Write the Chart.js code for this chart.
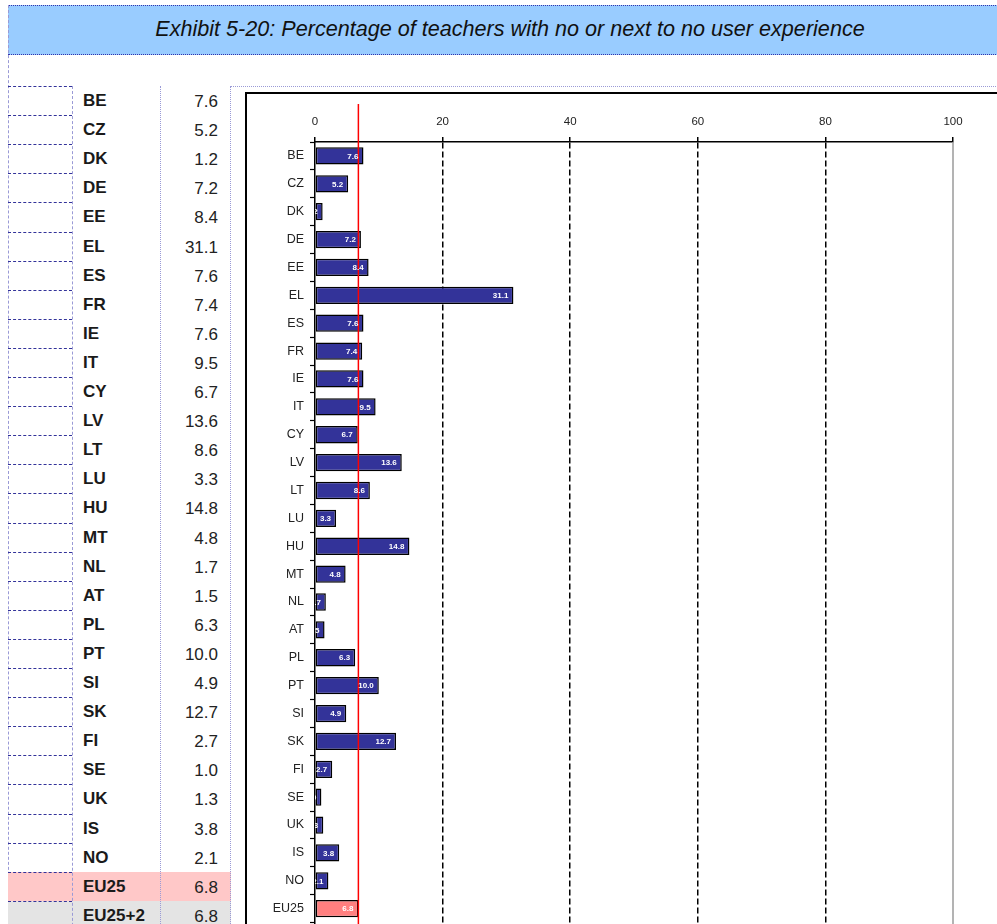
<!DOCTYPE html>
<html>
<head>
<meta charset="utf-8">
<script src="https://cdn.jsdelivr.net/npm/chart.js@4/dist/chart.umd.min.js"></script>
<style>
  html, body { margin: 0; padding: 0; background: #fff; }
  body { width: 997px; height: 924px; overflow: hidden; position: relative; font-family: "Liberation Sans", Arial, sans-serif; }
  #band { position: absolute; left: 8px; top: 5px; width: 1000px; height: 48px; background: #99ccff;
          border-top: 1px dotted #3333aa; border-bottom: 1px dotted #3333aa; }
  #title { position: absolute; left: 0; width: 1020px; top: 16px; text-align: center; font-style: italic;
           font-size: 21.6px; color: #111; white-space: nowrap; }
  .vline { position: absolute; width: 0; border-left: 1px dashed #9a9ad6; }
  .hline { position: absolute; height: 0; border-top: 1px dashed #33339a; }
  .row { position: absolute; left: 8px; width: 223px; }
  .code { position: absolute; left: 83px; font-size: 17px; font-weight: bold; color: #1a1a1a; }
  .val { position: absolute; left: 160px; width: 58px; text-align: right; font-size: 17px; color: #222; }
  #frame { position: absolute; left: 245px; top: 92px; width: 800px; height: 900px; border: 2px solid #000; box-sizing: border-box; }
  #chartBox { position: absolute; left: 247px; top: 94px; width: 760px; height: 870px; }
</style>
</head>
<body>
<div id="band"></div>
<div id="title">Exhibit 5-20: Percentage of teachers with no or next to no user experience</div>
<div id="table"></div>
<div id="frame"></div>
<div id="chartBox"><canvas id="c"></canvas></div>
<script>
// Countries and the share of teachers with no or next to no user experience (%)
const countries = ['BE','CZ','DK','DE','EE','EL','ES','FR','IE','IT','CY','LV','LT','LU','HU','MT','NL','AT','PL','PT','SI','SK','FI','SE','UK','IS','NO','EU25','EU25+2'];
const values = [7.6,5.2,1.2,7.2,8.4,31.1,7.6,7.4,7.6,9.5,6.7,13.6,8.6,3.3,14.8,4.8,1.7,1.5,6.3,10.0,4.9,12.7,2.7,1.0,1.3,3.8,2.1,6.8,6.8];
const averageLabel = 'EU25';
const xTicks = [0, 20, 40, 60, 80, 100];

// Left-hand data table
const table = document.getElementById('table');
const rowTop = 86, rowH = 29.1;
function add(html) { table.insertAdjacentHTML('beforeend', html); }
add(`<div class="vline" style="left:8px;top:5px;height:930px"></div>`);
countries.forEach((c, i) => {
  const top = rowTop + rowH * i;
  let bg = '';
  if (c === 'EU25') bg = '#ffc8c8';
  if (c === 'EU25+2') bg = '#e4e4e4';
  if (bg) add(`<div class="row" style="top:${top}px;height:${rowH}px;background:${bg}"></div>`);
  add(`<div class="hline" style="left:8px;width:64px;top:${top}px"></div>`);
  add(`<div class="code" style="top:${top + 5}px">${c}</div>`);
  add(`<div class="val" style="top:${top + 6}px">${values[i].toFixed(1)}</div>`);
});
add(`<div class="vline" style="left:72px;top:${rowTop}px;height:900px"></div>`);
add(`<div class="vline" style="left:160px;top:${rowTop}px;height:900px;border-left-style:dotted"></div>`);
add(`<div class="vline" style="left:230px;top:${rowTop}px;height:900px;border-left-style:dotted"></div>`);
add(`<div class="hline" style="left:230px;width:800px;top:${rowTop}px;border-top:1px dotted #9a9ad6"></div>`);

const avgValue = values[countries.indexOf(averageLabel)];

// Reference lines: solid line at the axis maximum and red EU25 average line
const refLines = {
  id: 'refLines',
  afterDatasetsDraw(chart) {
    const { ctx, chartArea, scales } = chart;
    const x = scales.x;
    ctx.save();
    const xm = x.getPixelForValue(100);
    ctx.strokeStyle = '#9a9a9a';
    ctx.lineWidth = 1.5;
    ctx.beginPath(); ctx.moveTo(xm, chartArea.top); ctx.lineTo(xm, chartArea.bottom); ctx.stroke();
    const xa = x.getPixelForValue(avgValue);
    ctx.strokeStyle = '#ff0000';
    ctx.lineWidth = 1.5;
    ctx.beginPath(); ctx.moveTo(xa, chartArea.top - 38); ctx.lineTo(xa, chartArea.bottom); ctx.stroke();
    ctx.restore();
  }
};

// White value labels at the inner end of each bar
const barLabels = {
  id: 'barLabels',
  afterDatasetsDraw(chart) {
    const { ctx, chartArea } = chart;
    const meta = chart.getDatasetMeta(0);
    ctx.save();
    ctx.beginPath();
    ctx.rect(chartArea.left, chartArea.top, chartArea.right - chartArea.left, chartArea.bottom - chartArea.top);
    ctx.clip();
    ctx.font = 'bold 8px "Liberation Sans", Arial, sans-serif';
    ctx.fillStyle = '#ffffff';
    ctx.textAlign = 'right';
    ctx.textBaseline = 'middle';
    meta.data.forEach((bar, i) => {
      ctx.fillText(values[i].toFixed(1), bar.x - 5, bar.y + 0.5);
    });
    ctx.restore();
  }
};

new Chart(document.getElementById('c'), {
  type: 'bar',
  data: {
    labels: countries,
    datasets: [{
      data: values,
      backgroundColor: countries.map(c => c === 'EU25' ? '#ff7f7f' : (c === 'EU25+2' ? '#c8c8c8' : '#333399')),
      borderColor: '#000',
      borderWidth: 1.5,
      borderSkipped: false,
      categoryPercentage: 1,
      barPercentage: 0.62
    }]
  },
  options: {
    indexAxis: 'y',
    responsive: true,
    maintainAspectRatio: false,
    animation: false,
    events: [],
    layout: { padding: { left: 0, right: 54, top: 0, bottom: 0 } },
    plugins: { legend: { display: false }, tooltip: { enabled: false } },
    scales: {
      x: {
        position: 'top',
        min: 0, max: 100,
        afterBuildTicks(scale) { scale.ticks = xTicks.map(v => ({ value: v })); },
        afterFit(scale) { scale.height = 48; },
        ticks: { color: '#222', font: { size: 11.5, family: '"Liberation Sans", Arial, sans-serif' }, padding: 8 },
        grid: {
          color: ctx => (ctx.tick && ctx.tick.value > 0 && ctx.tick.value < 100) ? '#000' : 'rgba(0,0,0,0)',
          tickColor: '#000',
          lineWidth: 1.5,
          tickWidth: 1.5,
          tickLength: 5
        },
        border: { display: true, color: '#000', width: 1.5, dash: [6, 3] }
      },
      y: {
        afterFit(scale) { scale.width = 68; },
        ticks: { color: '#222', font: { size: 12.5, family: '"Liberation Sans", Arial, sans-serif' }, padding: 6, autoSkip: false },
        grid: {
          offset: true,
          drawOnChartArea: false,
          tickColor: '#000',
          tickLength: 5,
          tickWidth: 1.2
        },
        border: { display: true, color: '#000', width: 1.5 }
      }
    }
  },
  plugins: [refLines, barLabels]
});
</script>
</body>
</html>
